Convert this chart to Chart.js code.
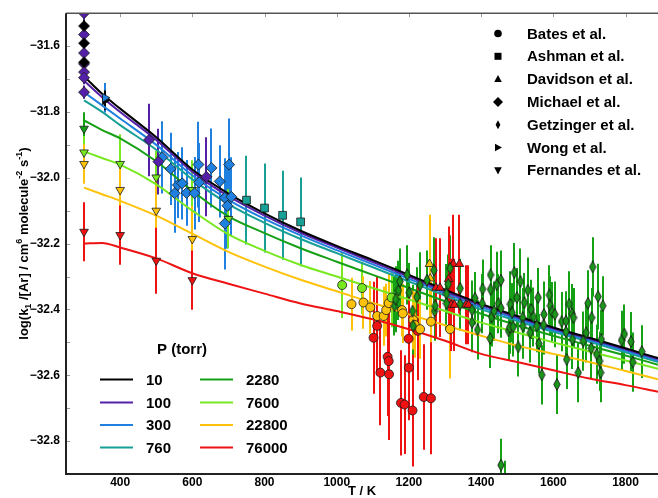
<!DOCTYPE html>
<html>
<head>
<meta charset="utf-8">
<script src="https://cdn.jsdelivr.net/npm/chart.js@4.4.1/dist/chart.umd.min.js"></script>
<style>
  html, body { margin: 0; padding: 0; background: #fff; }
  canvas { display: block; }
</style>
</head>
<body>
<canvas id="chart" width="658" height="498"></canvas>
<script>
// pressures of the fitted fall-off curves (torr)
const pressures = ['10', '100', '300', '760', '2280', '7600', '22800', '76000'];
const pressureColors = ['#000000', '#5420a8', '#2080e0', '#18a096', '#16a016', '#78e820', '#ffc20a', '#ee1212'];

// axis ticks
const xTicks = [400, 600, 800, 1000, 1200, 1400, 1600, 1800];
const yTicks = [-32.9, -32.8, -32.7, -32.6, -32.5, -32.4, -32.3, -32.2, -32.1, -32.0, -31.9, -31.8, -31.7, -31.6, -31.5];
const yLabelled = [-32.8, -32.6, -32.4, -32.2, -32.0, -31.8, -31.6];

// fitted log10(k1/[Ar]) against T for each pressure
const fitT = [300, 350, 400, 500, 600, 700, 800, 900, 1000, 1100, 1200, 1300, 1400, 1500, 1600, 1700, 1800, 1890];
const fit10 = [-31.692, -31.745, -31.790, -31.877, -31.975, -32.048, -32.108, -32.161, -32.207, -32.250, -32.295, -32.340, -32.383, -32.420, -32.455, -32.486, -32.518, -32.548];
const fit100 = [-31.705, -31.755, -31.800, -31.885, -31.982, -32.056, -32.115, -32.167, -32.212, -32.256, -32.300, -32.345, -32.387, -32.424, -32.458, -32.489, -32.521, -32.551];
const fit300 = [-31.740, -31.780, -31.820, -31.900, -31.993, -32.067, -32.125, -32.175, -32.220, -32.263, -32.307, -32.351, -32.393, -32.429, -32.463, -32.493, -32.525, -32.555];
const fit760 = [-31.765, -31.800, -31.840, -31.915, -32.005, -32.080, -32.137, -32.186, -32.229, -32.272, -32.315, -32.358, -32.400, -32.435, -32.468, -32.498, -32.530, -32.560];
const fit2280 = [-31.826, -31.855, -31.880, -31.950, -32.040, -32.117, -32.168, -32.214, -32.255, -32.295, -32.335, -32.375, -32.413, -32.448, -32.480, -32.510, -32.540, -32.568];
const fit7600 = [-31.920, -31.940, -31.960, -32.020, -32.100, -32.172, -32.222, -32.265, -32.300, -32.335, -32.370, -32.405, -32.440, -32.470, -32.500, -32.528, -32.555, -32.580];
const fit22800 = [-32.030, -32.050, -32.070, -32.115, -32.170, -32.225, -32.270, -32.310, -32.345, -32.380, -32.415, -32.448, -32.480, -32.510, -32.535, -32.560, -32.587, -32.612];
const fit76000 = [-32.200, -32.198, -32.212, -32.245, -32.290, -32.322, -32.352, -32.382, -32.405, -32.430, -32.460, -32.495, -32.535, -32.560, -32.585, -32.610, -32.630, -32.650];
const fitCurves = [fit10, fit100, fit300, fit760, fit2280, fit7600, fit22800, fit76000];

// measurements as [T / K, log10(k1/[Ar]), error]
const bates7600 = [[1015, -32.326, 0.10], [1070, -32.335, 0.08], [1152, -32.364, 0.09]];
const bates22800 = [[1041, -32.384, 0.08], [1074, -32.379, 0.08], [1093, -32.394, 0.08], [1112, -32.420, 0.08], [1130, -32.420, 0.09], [1137, -32.402, 0.08], [1144, -32.381, 0.09], [1181, -32.402, 0.08], [1183, -32.412, 0.09], [1212, -32.432, 0.09], [1216, -32.447, 0.10], [1231, -32.460, 0.09], [1261, -32.437, 0.12], [1314, -32.460, 0.15]];
const bates76000 = [[1102, -32.486, 0.17], [1112, -32.450, 0.15], [1121, -32.592, 0.16], [1141, -32.544, 0.18], [1144, -32.557, 0.17], [1145, -32.597, 0.20], [1178, -32.684, 0.16], [1188, -32.689, 0.15], [1199, -32.489, 0.15], [1200, -32.577, 0.16], [1210, -32.707, 0.17], [1224, -32.465, 0.15], [1241, -32.666, 0.16], [1261, -32.670, 0.17]];
const ashman760 = [[750, -32.068, 0.135], [800, -32.092, 0.135], [850, -32.114, 0.135], [900, -32.134, 0.135]];
const davidson22800 = [[1257, -32.262, 0.15], [1259, -32.306, 0.12]];
const davidson76000 = [[1275, -32.334, 0.15], [1286, -32.334, 0.15], [1310, -32.308, 0.16], [1323, -32.262, 0.15], [1340, -32.262, 0.15], [1317, -32.386, 0.14], [1326, -32.386, 0.14], [1358, -32.386, 0.12], [1365, -32.386, 0.12]];
const michael10 = [[300, -31.539, 0.02], [300, -31.591, 0.02], [300, -31.649, 0.02]];
const michael100 = [[300, -31.500, 0.02], [300, -31.565, 0.02], [300, -31.621, 0.02], [300, -31.654, 0.02], [300, -31.679, 0.02], [300, -31.696, 0.02], [300, -31.740, 0.02], [480, -31.885, 0.11], [506, -31.951, 0.10], [639, -31.997, 0.12]];
const michael300 = [[517, -31.938, 0.11], [540, -31.973, 0.11], [551, -32.047, 0.12], [560, -32.022, 0.10], [572, -32.017, 0.11], [584, -32.046, 0.10], [606, -32.047, 0.11], [617, -31.960, 0.13], [619, -32.014, 0.12], [653, -31.970, 0.12], [676, -32.011, 0.11], [690, -32.061, 0.12], [697, -32.085, 0.13], [702, -31.960, 0.14], [708, -32.058, 0.12], [690, -32.139, 0.14]];
const getzinger2280 = [
  [1160, -32.389, 0.09], [1163, -32.369, 0.10], [1171, -32.342, 0.09], [1175, -32.315, 0.10], [1195, -32.295, 0.09],
  [1201, -32.349, 0.09], [1210, -32.405, 0.08], [1212, -32.450, 0.09], [1222, -32.362, 0.09], [1231, -32.326, 0.10],
  [1250, -32.311, 0.09], [1269, -32.281, 0.10], [1271, -32.405, 0.09], [1273, -32.389, 0.09], [1304, -32.352, 0.09],
  [1304, -32.382, 0.08], [1309, -32.323, 0.09], [1314, -32.275, 0.10], [1342, -32.336, 0.09], [1342, -32.384, 0.08],
  [1375, -32.402, 0.09], [1375, -32.440, 0.09], [1383, -32.366, 0.08], [1390, -32.462, 0.09], [1403, -32.382, 0.09],
  [1404, -32.338, 0.09], [1425, -32.488, 0.09], [1426, -32.295, 0.09], [1426, -32.339, 0.10], [1429, -32.423, 0.09],
  [1436, -32.405, 0.09], [1443, -32.325, 0.10], [1448, -32.382, 0.09], [1455, -32.396, 0.09], [1455, -32.311, 0.09],
  [1476, -32.465, 0.09], [1479, -32.455, 0.08], [1481, -32.384, 0.10], [1486, -32.410, 0.09], [1489, -32.453, 0.09],
  [1492, -32.288, 0.09], [1499, -32.364, 0.09], [1503, -32.514, 0.09], [1509, -32.315, 0.10], [1515, -32.425, 0.09],
  [1515, -32.450, 0.10], [1520, -32.379, 0.09], [1529, -32.342, 0.10], [1536, -32.471, 0.09], [1539, -32.400, 0.09],
  [1545, -32.423, 0.09], [1554, -32.450, 0.08], [1558, -32.364, 0.09], [1560, -32.504, 0.09], [1568, -32.599, 0.09],
  [1573, -32.447, 0.09], [1574, -32.415, 0.10], [1589, -32.356, 0.09], [1592, -32.389, 0.09], [1597, -32.407, 0.09],
  [1604, -32.415, 0.10], [1610, -32.628, 0.09], [1623, -32.437, 0.09], [1635, -32.435, 0.09], [1635, -32.468, 0.09],
  [1637, -32.552, 0.09], [1644, -32.384, 0.10], [1652, -32.413, 0.09], [1653, -32.491, 0.09], [1656, -32.425, 0.09],
  [1669, -32.592, 0.09], [1683, -32.496, 0.09], [1691, -32.471, 0.09], [1696, -32.381, 0.10], [1705, -32.518, 0.09],
  [1706, -32.425, 0.09], [1709, -32.271, 0.09], [1720, -32.536, 0.09], [1724, -32.361, 0.10], [1728, -32.557, 0.09],
  [1731, -32.592, 0.09], [1733, -32.491, 0.09], [1737, -32.389, 0.09], [1789, -32.494, 0.09], [1797, -32.475, 0.09],
  [1815, -32.498, 0.09], [1820, -32.560, 0.09], [1845, -32.528, 0.08], [1455, -32.873, 0.08], [1467, -32.950, 0.09]
];
const wong10 = [[358, -31.765, 0.03]];
const wong300 = [[358, -31.757, 0.045]];
const fernandes2280 = [[300, -31.851, 0.05]];
const fernandes7600 = [[300, -31.923, 0.05], [400, -31.958, 0.09], [500, -31.999, 0.08], [600, -32.037, 0.09], [700, -32.125, 0.09]];
const fernandes22800 = [[300, -31.958, 0.06], [400, -32.037, 0.08], [500, -32.100, 0.10], [600, -32.186, 0.10]];
const fernandes76000 = [[300, -32.164, 0.09], [400, -32.174, 0.09], [500, -32.252, 0.10], [600, -32.311, 0.09]];

const authors = ['Bates et al.', 'Ashman et al.', 'Davidson et al.', 'Michael et al.', 'Getzinger et al.', 'Wong et al.', 'Fernandes et al.'];

const FONT = '"Liberation Sans", Arial, Helvetica, sans-serif';
Chart.defaults.font.family = FONT;
Chart.defaults.font.weight = 'bold';
Chart.defaults.color = '#000';

// narrow diamond used for the Getzinger points
function narrowDiamond(fill) {
  const c = document.createElement('canvas');
  c.width = 8; c.height = 13;
  const g = c.getContext('2d');
  g.beginPath();
  g.moveTo(4, 0.6); g.lineTo(7.2, 6.5); g.lineTo(4, 12.4); g.lineTo(0.8, 6.5); g.closePath();
  g.fillStyle = fill; g.fill();
  g.strokeStyle = '#1a1a1a'; g.lineWidth = 0.9; g.stroke();
  return c;
}

function markerSet(rows, p, style, radius, rotation) {
  return {
    data: rows.map(([x, y, e]) => ({ x, y, e })),
    showLine: false,
    pointStyle: style,
    pointRadius: radius,
    pointRotation: rotation || 0,
    backgroundColor: pressureColors[p],
    borderColor: '#1a1a1a',
    borderWidth: 0.8,
    barColor: pressureColors[p],
    order: 1
  };
}

const curveSets = fitCurves.map((vals, i) => ({
  data: fitT.map((t, j) => ({ x: t, y: vals[j] })),
  showLine: true,
  borderColor: pressureColors[i],
  borderWidth: 2,
  pointRadius: 0,
  cubicInterpolationMode: 'monotone',
  order: 10
}));

const pointSets = [
  markerSet(michael10, 0, 'rectRot', 5.5),
  markerSet(michael100, 1, 'rectRot', 5.5),
  markerSet(michael300, 2, 'rectRot', 5.5),
  markerSet(wong300, 2, 'triangle', 5, 90),
  markerSet(wong10, 0, 'triangle', 5, 90),
  markerSet(ashman760, 3, 'rect', 5.5),
  markerSet(fernandes2280, 4, 'triangle', 5, 180),
  markerSet(fernandes7600, 5, 'triangle', 5, 180),
  markerSet(fernandes22800, 6, 'triangle', 5, 180),
  markerSet(fernandes76000, 7, 'triangle', 5, 180),
  markerSet(getzinger2280, 4, narrowDiamond('#1a961a'), 4),
  markerSet(bates7600, 5, 'circle', 4.5),
  markerSet(bates22800, 6, 'circle', 4.5),
  markerSet(bates76000, 7, 'circle', 4.5),
  markerSet(davidson22800, 6, 'triangle', 5),
  markerSet(davidson76000, 7, 'triangle', 5)
];

// vertical error bars, drawn underneath curves and markers
const errorBars = {
  id: 'errorBars',
  beforeDatasetsDraw(chart) {
    const { ctx, chartArea: a, scales: { x, y } } = chart;
    ctx.save();
    ctx.beginPath();
    ctx.rect(a.left, a.top, a.width, a.height);
    ctx.clip();
    ctx.lineWidth = 2;
    chart.data.datasets.forEach(ds => {
      if (!ds.barColor) return;
      ctx.strokeStyle = ds.barColor;
      ds.data.forEach(p => {
        const px = Math.round(x.getPixelForValue(p.x));
        ctx.beginPath();
        ctx.moveTo(px, y.getPixelForValue(p.y + p.e));
        ctx.lineTo(px, y.getPixelForValue(p.y - p.e));
        ctx.stroke();
      });
    });
    ctx.restore();
  }
};

// axis frame and inward tick marks
const frame = {
  id: 'frame',
  afterDatasetsDraw(chart) {
    const { ctx, chartArea: a, scales: { x, y } } = chart;
    ctx.save();
    ctx.strokeStyle = '#9a9a9a';
    ctx.lineWidth = 1;
    y.ticks.forEach(t => {
      const py = Math.round(y.getPixelForValue(t.value)) + 0.5;
      ctx.beginPath(); ctx.moveTo(a.left, py); ctx.lineTo(a.left + 4, py); ctx.stroke();
    });
    x.ticks.forEach(t => {
      const px = Math.round(x.getPixelForValue(t.value)) + 0.5;
      ctx.beginPath(); ctx.moveTo(px, a.top); ctx.lineTo(px, a.top + 4); ctx.stroke();
    });
    ctx.strokeStyle = '#555';
    ctx.lineWidth = 1.5;
    ctx.beginPath(); ctx.moveTo(a.left, a.top); ctx.lineTo(a.right, a.top); ctx.stroke();
    ctx.strokeStyle = '#222';
    ctx.lineWidth = 2;
    ctx.beginPath(); ctx.moveTo(a.left, a.top); ctx.lineTo(a.left, a.bottom); ctx.lineTo(a.right, a.bottom); ctx.stroke();
    ctx.restore();
  }
};

function symbolPath(ctx, i, cx, cy) {
  ctx.beginPath();
  if (i === 0) ctx.arc(cx, cy, 3.8, 0, Math.PI * 2);
  else if (i === 1) ctx.rect(cx - 3.5, cy - 3.5, 7, 7);
  else if (i === 2) { ctx.moveTo(cx, cy - 4.2); ctx.lineTo(cx + 3.8, cy + 3); ctx.lineTo(cx - 3.8, cy + 3); }
  else if (i === 3) { ctx.moveTo(cx, cy - 5); ctx.lineTo(cx + 5, cy); ctx.lineTo(cx, cy + 5); ctx.lineTo(cx - 5, cy); }
  else if (i === 4) { ctx.moveTo(cx, cy - 4.5); ctx.lineTo(cx + 2.4, cy); ctx.lineTo(cx, cy + 4.5); ctx.lineTo(cx - 2.4, cy); }
  else if (i === 5) { ctx.moveTo(cx - 3, cy - 3.8); ctx.lineTo(cx + 4, cy); ctx.lineTo(cx - 3, cy + 3.8); }
  else { ctx.moveTo(cx, cy + 4.2); ctx.lineTo(cx + 3.8, cy - 3); ctx.lineTo(cx - 3.8, cy - 3); }
  ctx.closePath();
}

// marker legend (sources) and line legend (pressures)
const legends = {
  id: 'legends',
  afterDraw(chart) {
    const ctx = chart.ctx;
    ctx.save();
    ctx.fillStyle = '#000';
    ctx.font = `bold 15px ${FONT}`;
    ctx.textBaseline = 'middle';
    authors.forEach((name, i) => {
      const cy = 33.5 + i * 22.8;
      symbolPath(ctx, i, 498, cy);
      ctx.fill();
      ctx.fillText(name, 527, cy + 1);
    });

    ctx.textAlign = 'center';
    ctx.fillText('P (torr)', 182, 350);
    ctx.textAlign = 'left';
    const rows = [379.5, 402.5, 425, 447.5];
    pressures.forEach((p, i) => {
      const col = Math.floor(i / 4);
      const cy = rows[i % 4];
      const x0 = col ? 200 : 100;
      ctx.strokeStyle = pressureColors[i];
      ctx.lineWidth = 2;
      ctx.beginPath(); ctx.moveTo(x0, cy); ctx.lineTo(x0 + 33, cy); ctx.stroke();
      ctx.fillText(p, x0 + 46, cy + 1);
    });
    ctx.restore();
  }
};

// rotated y-axis title with sub- and superscripts
const yTitle = {
  id: 'yTitle',
  afterDraw(chart) {
    const { ctx, chartArea: a } = chart;
    const parts = [['log(k', 0], ['1', 1], [' /[Ar] / cm', 0], ['6', -1], [' molecule', 0], ['-2', -1], [' s', 0], ['-1', -1], [')', 0]];
    const setFont = k => { ctx.font = `bold ${k ? 9 : 13}px ${FONT}`; };
    ctx.save();
    ctx.translate(28, (a.top + a.bottom) / 2);
    ctx.rotate(-Math.PI / 2);
    ctx.fillStyle = '#000';
    ctx.textBaseline = 'alphabetic';
    let total = 0;
    parts.forEach(([t, k]) => { setFont(k); total += ctx.measureText(t).width; });
    let pos = -total / 2;
    parts.forEach(([t, k]) => {
      setFont(k);
      ctx.fillText(t, pos, k === 1 ? 3 : k === -1 ? -6 : 0);
      pos += ctx.measureText(t).width;
    });
    ctx.restore();
  }
};

new Chart(document.getElementById('chart'), {
  type: 'scatter',
  data: { datasets: [...curveSets, ...pointSets] },
  options: {
    responsive: false,
    animation: false,
    layout: { autoPadding: false, padding: { top: 13, left: 0, right: 0, bottom: 0 } },
    plugins: { legend: { display: false }, tooltip: { enabled: false } },
    scales: {
      x: {
        type: 'linear',
        min: 250,
        max: 1890,
        grid: { display: false, drawTicks: false },
        border: { display: false },
        afterBuildTicks(s) { s.ticks = xTicks.map(v => ({ value: v })); },
        ticks: { autoSkip: false, maxRotation: 0, padding: 1, font: { size: 12, weight: 'bold' }, callback: v => String(v) },
        title: { display: true, text: 'T / K', font: { size: 13, weight: 'bold', lineHeight: 1 }, padding: 0 },
        afterFit(s) { s.height = 24; s.paddingLeft = 0; s.paddingRight = 0; }
      },
      y: {
        type: 'linear',
        min: -32.9,
        max: -31.5,
        grid: { display: false, drawTicks: false },
        border: { display: false },
        afterBuildTicks(s) { s.ticks = yTicks.map(v => ({ value: v })); },
        ticks: {
          autoSkip: false,
          padding: 6,
          font: { size: 12, weight: 'bold' },
          callback: v => (yLabelled.some(l => Math.abs(l - v) < 1e-6) ? v.toFixed(1).replace('-', '\u2212') : '')
        },
        afterFit(s) { s.width = 66; }
      }
    }
  },
  plugins: [errorBars, frame, legends, yTitle]
});
</script>
</body>
</html>
